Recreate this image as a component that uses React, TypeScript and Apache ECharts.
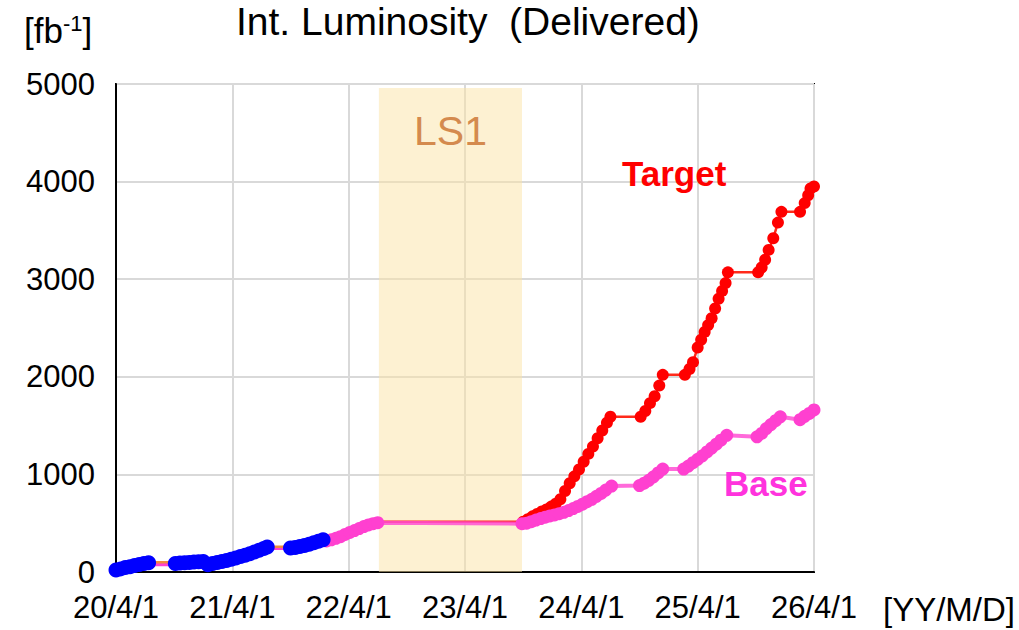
import React, { useEffect, useRef } from "react";
import * as echarts from "echarts";

// x = years since 2020-04-01
const xTickLabels = ["20/4/1", "21/4/1", "22/4/1", "23/4/1", "24/4/1", "25/4/1", "26/4/1"];
const yTicks = [0, 1000, 2000, 3000, 4000, 5000];

const delivered: [number, number][] = [
  [0.0, 20], [0.04, 32], [0.08, 45], [0.12, 55], [0.16, 66], [0.2, 76], [0.24, 86], [0.28, 95],
  [0.51, 88], [0.55, 92], [0.59, 95], [0.63, 98], [0.67, 102], [0.71, 106], [0.75, 108],
  [0.79, 75], [0.83, 88], [0.87, 98], [0.91, 108], [0.95, 118], [0.99, 130], [1.03, 143],
  [1.07, 158], [1.11, 172], [1.15, 188], [1.19, 205], [1.23, 222], [1.27, 240], [1.3, 255],
  [1.5, 245], [1.54, 252], [1.58, 262], [1.62, 272], [1.66, 285], [1.7, 300], [1.74, 315], [1.78, 330],
];

const basePlanEarly: [number, number][] = [
  [0, 15], [0.28, 80], [0.5, 80], [0.78, 100], [1.3, 245], [1.5, 245], [1.81, 318],
];

const targetPlanEarly: [number, number][] = [
  [0, 25], [0.28, 100], [0.5, 100], [0.78, 112], [1.3, 258], [1.5, 258], [1.8, 325], [2.25, 515],
];

const base: [number, number][] = [
  [1.81, 318], [1.85, 330], [1.89, 345], [1.93, 362], [1.97, 385], [2.01, 405], [2.05, 425],
  [2.09, 445], [2.13, 465], [2.17, 482], [2.21, 495], [2.25, 505], [3.49, 495],
  [3.53, 500], [3.57, 515], [3.61, 532], [3.65, 548], [3.69, 562], [3.73, 575], [3.77, 585],
  [3.81, 598], [3.85, 612], [3.89, 630], [3.93, 650], [3.97, 672], [4.01, 695], [4.05, 720],
  [4.09, 745], [4.13, 775], [4.17, 805], [4.21, 840], [4.26, 880],
  [4.5, 885], [4.54, 910], [4.58, 940], [4.62, 975], [4.66, 1015], [4.7, 1055],
  [4.88, 1055], [4.92, 1085], [4.96, 1120], [5.0, 1155], [5.04, 1190], [5.08, 1230],
  [5.12, 1270], [5.16, 1310], [5.2, 1350], [5.25, 1400],
  [5.51, 1385], [5.55, 1420], [5.59, 1470], [5.63, 1510], [5.67, 1550], [5.71, 1590],
  [5.88, 1560], [5.92, 1595], [5.96, 1625], [6.0, 1660],
];

const target: [number, number][] = [
  [2.25, 515], [3.5, 515],
  [3.54, 540], [3.58, 570], [3.62, 595], [3.66, 620], [3.7, 640], [3.74, 670], [3.78, 700],
  [3.82, 745], [3.86, 830], [3.9, 910], [3.94, 980], [3.98, 1050], [4.02, 1130], [4.06, 1210],
  [4.1, 1285], [4.14, 1370], [4.18, 1450], [4.22, 1530], [4.25, 1590],
  [4.51, 1590], [4.55, 1650], [4.59, 1730], [4.63, 1800], [4.67, 1910], [4.7, 2020],
  [4.89, 2020], [4.93, 2080], [4.96, 2150], [5.0, 2300], [5.03, 2380], [5.06, 2460],
  [5.09, 2530], [5.12, 2600], [5.15, 2700], [5.18, 2800], [5.21, 2880], [5.24, 2960], [5.26, 3070],
  [5.52, 3070], [5.55, 3120], [5.58, 3200], [5.61, 3300], [5.65, 3420], [5.69, 3580], [5.72, 3690],
  [5.88, 3690], [5.92, 3780], [5.95, 3860], [5.97, 3930], [6.0, 3950],
];

const ls1Start = 2.26;
const ls1End = 3.49;
const ls1Top = 4960;

const FONT = "Liberation Sans";

export default function App() {
  const ref = useRef<HTMLDivElement>(null);
  useEffect(() => {
    if (!ref.current) return;
    const chart = echarts.init(ref.current, null, { renderer: "svg" });
    chart.setOption({
      animation: false,
      backgroundColor: "#fff",
      textStyle: { fontFamily: FONT },
      grid: {
        left: 116, right: 205, top: 84, bottom: 58,
        show: true, borderColor: "#000", borderWidth: 2, backgroundColor: "transparent",
      },
      xAxis: {
        type: "value", min: 0, max: 6, interval: 1,
        axisLine: { show: true, lineStyle: { color: "#000", width: 2 } },
        axisTick: { show: false },
        splitLine: { show: true, lineStyle: { color: "#d9d9d9", width: 2 } },
        axisLabel: {
          color: "#000", fontSize: 31, fontFamily: FONT, margin: 20,
          formatter: (v: number) => xTickLabels[Math.round(v)] ?? "",
        },
      },
      yAxis: {
        type: "value", min: yTicks[0], max: yTicks[yTicks.length - 1], interval: 1000,
        axisLine: { show: true, lineStyle: { color: "#000", width: 2 } },
        axisTick: { show: false },
        splitLine: { show: true, lineStyle: { color: "#d9d9d9", width: 2 } },
        axisLabel: {
          color: "#000", fontSize: 31, fontFamily: FONT, margin: 21,
          formatter: (v: number) => String(v),
        },
      },
      graphic: [
        {
          type: "text", left: 236, top: 2, z: 100,
          style: { text: "Int. Luminosity  (Delivered)", fontSize: 39, fontFamily: FONT, fill: "#000" },
        },
        {
          type: "text", left: 24, top: 12, z: 100,
          style: {
            text: "[fb{s|-1}]", fontSize: 35, fontFamily: FONT, fill: "#000",
            rich: { s: { fontSize: 22, fontFamily: FONT, fill: "#000", verticalAlign: "top", padding: [0, 0, 14, 0] } },
          },
        },
        {
          type: "text", left: 883, top: 593, z: 100,
          style: { text: "[YY/M/D]", fontSize: 33, fontFamily: FONT, fill: "#000" },
        },
        {
          type: "text", left: 622, top: 156, z: 100,
          style: { text: "Target", fontSize: 35, fontWeight: "bold", fontFamily: FONT, fill: "#ff0000" },
        },
        {
          type: "text", left: 724, top: 466, z: 100,
          style: { text: "Base", fontSize: 35, fontWeight: "bold", fontFamily: FONT, fill: "#ff33dd" },
        },
      ],
      series: [
        {
          name: "LS1",
          type: "line",
          data: [],
          markArea: {
            silent: true,
            itemStyle: { color: "rgba(251,228,165,0.5)" },
            label: {
              show: true, position: "insideTop", distance: 23, formatter: "LS1",
              color: "#d48a4e", fontSize: 41, fontFamily: FONT,
            },
            data: [[{ xAxis: ls1Start, yAxis: 0 }, { xAxis: ls1End, yAxis: ls1Top }]],
          },
        },
        {
          name: "Base plan (early)",
          type: "line",
          z: 3,
          data: basePlanEarly,
          symbol: "none",
          lineStyle: { color: "#ff40d0", width: 4 },
        },
        {
          name: "Target plan (early)",
          type: "line",
          z: 3,
          data: targetPlanEarly,
          symbol: "none",
          lineStyle: { color: "#f08a40", width: 2.5 },
        },
        {
          name: "Target",
          type: "line",
          z: 4,
          data: target.map((p, i) => (i === 0 ? { value: p, symbol: "none" } : p)),
          symbol: "circle",
          symbolSize: 12,
          showAllSymbol: true,
          itemStyle: { color: "#ff0000" },
          lineStyle: { color: "#ff2a1a", width: 2.5 },
        },
        {
          name: "Base",
          type: "line",
          z: 5,
          data: base,
          symbol: "circle",
          symbolSize: 13,
          showAllSymbol: true,
          itemStyle: { color: "#ff40d0" },
          lineStyle: { color: "#ff50d4", width: 4, opacity: 0.85 },
        },
        {
          name: "Delivered",
          type: "scatter",
          z: 10,
          data: delivered,
          symbol: "circle",
          symbolSize: 15,
          itemStyle: { color: "#0000ff", opacity: 1 },
        },
      ],
    });
    return () => chart.dispose();
  }, []);
  return <div ref={ref} style={{ width: 1019, height: 630, position: "absolute", left: 0, top: 0 }} />;
}
